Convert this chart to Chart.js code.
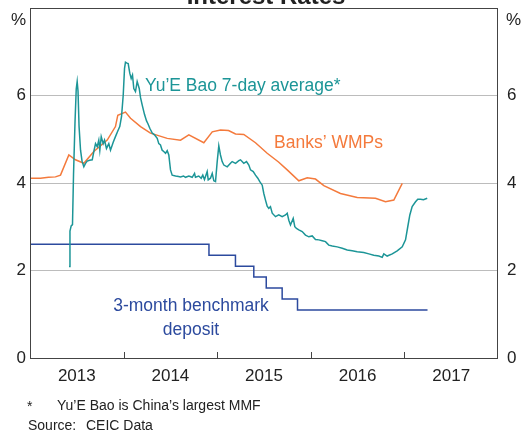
<!DOCTYPE html>
<html>
<head>
<meta charset="utf-8">
<script src="https://cdn.jsdelivr.net/npm/chart.js@4"></script>
<style>
  html, body { margin: 0; padding: 0; background: #fff; }
</style>
</head>
<body>
<canvas id="rates-chart" width="530" height="434"></canvas>
<script>
// Yu'E Bao 7-day average (decimal years / %)
const yebDates = [
  2013.417, 2013.427, 2013.440, 2013.454, 2013.465, 2013.481, 2013.494, 2013.504, 2013.513, 2013.524,
  2013.540, 2013.556, 2013.575, 2013.593, 2013.611, 2013.636, 2013.665, 2013.682, 2013.700, 2013.718,
  2013.735, 2013.746, 2013.761, 2013.782, 2013.796, 2013.817, 2013.842, 2013.860, 2013.889, 2013.913,
  2013.938, 2013.959, 2013.978, 2013.996, 2014.010, 2014.020, 2014.036, 2014.049, 2014.066, 2014.081,
  2014.095, 2014.109, 2014.127, 2014.145, 2014.167, 2014.181, 2014.199, 2014.223, 2014.245, 2014.259,
  2014.280, 2014.306, 2014.330, 2014.359, 2014.376, 2014.394, 2014.412, 2014.429, 2014.448, 2014.466,
  2014.483, 2014.501, 2014.519, 2014.555, 2014.587, 2014.608, 2014.640, 2014.661, 2014.697, 2014.733,
  2014.758, 2014.768, 2014.803, 2014.829, 2014.846, 2014.864, 2014.893, 2014.904, 2014.928, 2014.947,
  2014.964, 2014.982, 2015.000, 2015.017, 2015.035, 2015.053, 2015.071, 2015.107, 2015.142, 2015.160,
  2015.196, 2015.231, 2015.249, 2015.284, 2015.313, 2015.338, 2015.356, 2015.385, 2015.409, 2015.434,
  2015.455, 2015.481, 2015.498, 2015.516, 2015.534, 2015.551, 2015.569, 2015.588, 2015.623, 2015.658,
  2015.694, 2015.730, 2015.748, 2015.765, 2015.783, 2015.812, 2015.829, 2015.847, 2015.872, 2015.908,
  2015.943, 2015.979, 2016.015, 2016.050, 2016.086, 2016.122, 2016.157, 2016.192, 2016.229, 2016.282,
  2016.336, 2016.389, 2016.442, 2016.496, 2016.566, 2016.620, 2016.673, 2016.727, 2016.763, 2016.780,
  2016.816, 2016.870, 2016.923, 2016.977, 2017.012, 2017.036, 2017.058, 2017.083, 2017.119, 2017.143,
  2017.172, 2017.204, 2017.244
];
const yebRates = [
  2.09, 2.90, 3.02, 3.05, 4.20, 5.40, 6.15, 6.32, 6.10, 5.30,
  4.75, 4.50, 4.37, 4.45, 4.50, 4.52, 4.53, 4.72, 4.90, 4.83,
  4.98, 4.75, 5.06, 4.90, 4.98, 4.79, 4.90, 4.75, 4.93, 5.06,
  5.19, 5.29, 5.52, 6.01, 6.62, 6.76, 6.74, 6.73, 6.51, 6.39,
  6.47, 6.16, 6.09, 6.32, 6.16, 5.95, 5.78, 5.57, 5.42, 5.36,
  5.25, 5.14, 5.10, 5.02, 4.90, 4.87, 4.75, 4.72, 4.68, 4.74,
  4.64, 4.30, 4.18, 4.16, 4.15, 4.14, 4.16, 4.13, 4.16, 4.13,
  4.22, 4.13, 4.16, 4.11, 4.18, 4.08, 4.26, 4.07, 4.11, 4.22,
  4.05, 4.03, 4.49, 4.85, 4.64, 4.49, 4.41, 4.37, 4.45, 4.49,
  4.45, 4.51, 4.53, 4.45, 4.49, 4.41, 4.30, 4.26, 4.18, 4.11,
  4.03, 3.95, 3.76, 3.61, 3.47, 3.42, 3.46, 3.31, 3.23, 3.27,
  3.23, 3.27, 3.31, 3.15, 3.04, 3.19, 3.00, 2.96, 2.93, 2.89,
  2.81, 2.77, 2.79, 2.71, 2.70, 2.68, 2.66, 2.58, 2.56, 2.54,
  2.51, 2.47, 2.45, 2.43, 2.41, 2.38, 2.35, 2.33, 2.30, 2.38,
  2.33, 2.38, 2.45, 2.54, 2.70, 3.00, 3.27, 3.46, 3.57, 3.63,
  3.63, 3.62, 3.65
];

// Banks' WMPs
const wmpDates = [
  2013.005, 2013.112, 2013.198, 2013.272, 2013.326, 2013.415, 2013.486, 2013.575, 2013.682, 2013.825,
  2013.913, 2013.938, 2014.020, 2014.074, 2014.181, 2014.287, 2014.466, 2014.608, 2014.697, 2014.857,
  2014.947, 2015.035, 2015.121, 2015.196, 2015.284, 2015.409, 2015.534, 2015.655, 2015.748, 2015.872,
  2015.962, 2016.050, 2016.139, 2016.317, 2016.496, 2016.691, 2016.798, 2016.887, 2016.977
];
const wmpRates = [
  4.11, 4.11, 4.13, 4.14, 4.18, 4.64, 4.53, 4.45, 4.72, 4.98,
  5.29, 5.55, 5.62, 5.48, 5.29, 5.14, 5.02, 4.98, 5.10, 4.92,
  5.17, 5.21, 5.20, 5.12, 5.11, 4.92, 4.68, 4.48, 4.30, 4.05,
  4.12, 4.09, 3.94, 3.76, 3.67, 3.65, 3.57, 3.61, 3.99
];

// 3-month benchmark deposit rate (changes take effect at each date)
const depositDates = [2013.0, 2014.912, 2015.195, 2015.391, 2015.524, 2015.694, 2015.858, 2017.247];
const depositRates = [2.60, 2.35, 2.10, 1.85, 1.60, 1.35, 1.10, 1.10];

const yearLabels = [2013, 2014, 2015, 2016, 2017];
const rateTicks = [0, 2, 4, 6];

const TEAL = "#1c9597";
const ORANGE = "#f47a3c";
const NAVY = "#2c4a9e";
const FONT = "'Liberation Sans', Arial, sans-serif";

function toPoints(xs, ys) {
  return xs.map((x, i) => ({ x: x, y: ys[i] }));
}

Chart.defaults.font.family = FONT;
Chart.defaults.color = "#222";

// frame, inward tick marks and all the loose text
const extras = {
  id: "extras",
  afterDraw(chart) {
    const ctx = chart.ctx;
    const area = chart.chartArea;
    const xs = chart.scales.x;
    ctx.save();

    // box
    ctx.strokeStyle = "#444";
    ctx.lineWidth = 1;
    ctx.strokeRect(area.left + 0.5, area.top + 0.5, area.right - area.left - 1, area.bottom - area.top);

    // year ticks pointing up from the x axis
    for (let yr = yearLabels[0] + 1; yr <= yearLabels[yearLabels.length - 1]; yr++) {
      const px = Math.round(xs.getPixelForValue(yr)) + 0.5;
      ctx.beginPath();
      ctx.moveTo(px, area.bottom);
      ctx.lineTo(px, area.bottom - 6);
      ctx.stroke();
    }

    ctx.fillStyle = "#222";
    ctx.font = "bold 24px " + FONT;
    ctx.textAlign = "center";
    ctx.textBaseline = "alphabetic";
    ctx.fillText("Interest Rates", 266, 4);

    ctx.font = "17px " + FONT;
    ctx.textBaseline = "middle";
    ctx.textAlign = "right";
    ctx.fillText("%", 26, 20);
    ctx.textAlign = "left";
    ctx.fillText("%", 506, 20);

    ctx.font = "17.5px " + FONT;
    ctx.textBaseline = "alphabetic";
    ctx.textAlign = "left";
    ctx.fillStyle = TEAL;
    ctx.fillText("Yu\u2019E Bao 7-day average*", 145, 91);
    ctx.fillStyle = ORANGE;
    ctx.fillText("Banks\u2019 WMPs", 274, 148);
    ctx.fillStyle = NAVY;
    ctx.textAlign = "center";
    ctx.fillText("3-month benchmark", 191, 311);
    ctx.fillText("deposit", 191, 335);

    ctx.fillStyle = "#222";
    ctx.font = "14px " + FONT;
    ctx.textAlign = "left";
    ctx.fillText("*", 27, 411);
    ctx.fillText("Yu\u2019E Bao is China\u2019s largest MMF", 57, 410);
    ctx.fillText("Source:", 28, 430);
    ctx.fillText("CEIC Data", 86, 430);
    ctx.restore();
  }
};

function noOverflow(scale) {
  scale.paddingTop = 0;
  scale.paddingBottom = 0;
  scale.paddingLeft = 0;
  scale.paddingRight = 0;
}

const ctx = document.getElementById("rates-chart").getContext("2d");

new Chart(ctx, {
  type: "line",
  data: {
    datasets: [
      {
        label: "Yu'E Bao 7-day average",
        data: toPoints(yebDates, yebRates),
        borderColor: TEAL,
        borderWidth: 1.5,
        pointRadius: 0,
        tension: 0
      },
      {
        label: "Banks' WMPs",
        data: toPoints(wmpDates, wmpRates),
        borderColor: ORANGE,
        borderWidth: 1.5,
        pointRadius: 0,
        tension: 0
      },
      {
        label: "3-month benchmark deposit",
        data: toPoints(depositDates, depositRates),
        borderColor: NAVY,
        borderWidth: 1.5,
        pointRadius: 0,
        stepped: true
      }
    ]
  },
  options: {
    responsive: false,
    animation: false,
    layout: { padding: { top: 8, left: 0, right: 0, bottom: 0 } },
    plugins: {
      legend: { display: false },
      tooltip: { enabled: false },
      title: { display: false }
    },
    scales: {
      x: {
        type: "linear",
        min: 2013,
        max: 2018,
        afterBuildTicks: (scale) => {
          scale.ticks = yearLabels.map(y => ({ value: y + 0.5 }));
        },
        afterFit: (scale) => { scale.height = 76; noOverflow(scale); },
        ticks: {
          callback: (v) => Math.floor(v),
          font: { size: 17 },
          padding: 8,
          maxRotation: 0
        },
        grid: { display: false, drawTicks: false },
        border: { display: false }
      },
      y: {
        position: "left",
        min: 0,
        max: 8,
        afterBuildTicks: (scale) => {
          scale.ticks = rateTicks.map(v => ({ value: v }));
        },
        afterFit: (scale) => { scale.width = 30; noOverflow(scale); },
        ticks: { font: { size: 17 }, padding: 4 },
        grid: {
          drawTicks: false,
          color: (c) => (c.tick && c.tick.value === 0 ? "rgba(0,0,0,0)" : "#bcbcbc"),
          lineWidth: 1
        },
        border: { display: false }
      },
      y2: {
        position: "right",
        min: 0,
        max: 8,
        afterBuildTicks: (scale) => {
          scale.ticks = rateTicks.map(v => ({ value: v }));
        },
        afterFit: (scale) => { scale.width = 32; noOverflow(scale); },
        ticks: { font: { size: 17 }, padding: 9 },
        grid: { drawOnChartArea: false, drawTicks: false },
        border: { display: false }
      }
    }
  },
  plugins: [extras]
});
</script>
</body>
</html>
